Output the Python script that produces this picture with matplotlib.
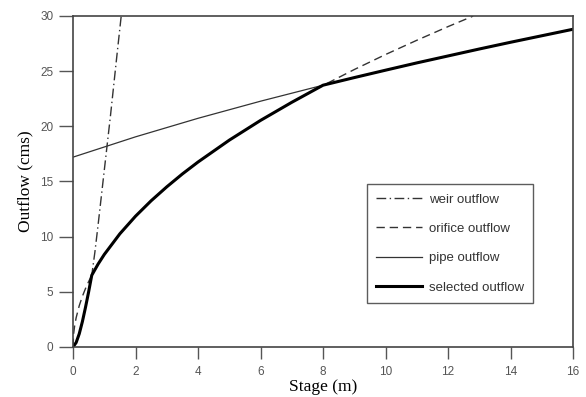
import matplotlib
matplotlib.use("Agg")
import matplotlib.pyplot as plt

# values
weir_stage = [0, 0.1, 0.2, 0.3, 0.4, 0.5, 0.6, 0.7, 0.8, 0.9, 1.0, 1.2, 1.4, 1.55]
weir_flow = [0, 0.4, 1.2, 2.3, 3.6, 5.0, 6.5, 8.6, 11.0, 13.5, 16.0, 21.0, 26.3, 30.2]

orifice_stage = [0, 0.02, 0.05, 0.1, 0.2, 0.3, 0.4, 0.5, 0.6, 0.8, 1, 1.5, 2, 2.5, 3,
                 3.5, 4, 5, 6, 7, 8, 9, 10, 11, 12, 12.8]
orifice_flow = [0, 1.2, 1.87, 2.65, 3.75, 4.59, 5.30, 5.93, 6.49, 7.50, 8.38, 10.26,
                11.85, 13.25, 14.51, 15.68, 16.76, 18.74, 20.53, 22.17, 23.70, 25.14,
                26.50, 27.79, 29.03, 29.98]

pipe_stage = [0, 2, 4, 6, 8, 10, 12, 14, 16]
pipe_flow = [17.20, 19.04, 20.72, 22.27, 23.72, 25.08, 26.37, 27.61, 28.79]

sel_stage = [0, 0.1, 0.2, 0.3, 0.4, 0.5, 0.6, 0.8, 1, 1.5, 2, 2.5, 3, 3.5, 4, 5, 6,
             7, 8, 9, 10, 11, 12, 13, 14, 15, 16]
sel_flow = [0, 0.4, 1.2, 2.3, 3.6, 5.0, 6.5, 7.50, 8.38, 10.26, 11.85, 13.25, 14.51,
            15.68, 16.76, 18.74, 20.53, 22.17, 23.72, 24.41, 25.08, 25.74, 26.37,
            27.00, 27.61, 28.20, 28.79]

fig = plt.figure(figsize=(5.86, 3.97), dpi=100)
ax = fig.add_axes([0.1246, 0.126, 0.8534, 0.834])

ax.plot(weir_stage, weir_flow, color="#333333", lw=1.0,
        dashes=(7, 2.5, 1, 2.5), label="weir outflow")
ax.plot(orifice_stage, orifice_flow, color="#333333", lw=1.0,
        dashes=(6, 3.5), label="orifice outflow")
ax.plot(pipe_stage, pipe_flow, color="#333333", lw=0.9, label="pipe outflow")
ax.plot(sel_stage, sel_flow, color="black", lw=2.2, label="selected outflow")

ax.set_xlim(0, 16)
ax.set_ylim(0, 30)
ax.set_xticks(range(0, 17, 2))
ax.set_yticks(range(0, 31, 5))
ax.tick_params(direction="out", width=1, color="#555555",
               labelsize=8.5, labelcolor="#555555")
ax.tick_params(axis="x", length=8.6, pad=5)
ax.tick_params(axis="y", length=10, pad=4)
for t in ax.get_xticklabels() + ax.get_yticklabels():
    t.set_fontfamily("Liberation Sans")
for s in ax.spines.values():
    s.set_color("#444444")
    s.set_linewidth(1.2)

ax.set_xlabel("Stage (m)", fontfamily="Liberation Serif", fontsize=12.5, labelpad=1)
ax.set_ylabel("Outflow (cms)", fontfamily="Liberation Serif", fontsize=12.5, labelpad=5)

leg = ax.legend(loc="lower left", bbox_to_anchor=(0.588, 0.133), frameon=True,
                fancybox=False, edgecolor="#333333", handlelength=3.5,
                labelspacing=1.3, borderpad=0.7, handletextpad=0.5,
                borderaxespad=0,
                prop={"family": "Liberation Sans", "size": 9.5})
leg.get_frame().set_linewidth(1.0)
for t in leg.get_texts():
    t.set_color("#333333")

fig.savefig("out.png", dpi=100)
